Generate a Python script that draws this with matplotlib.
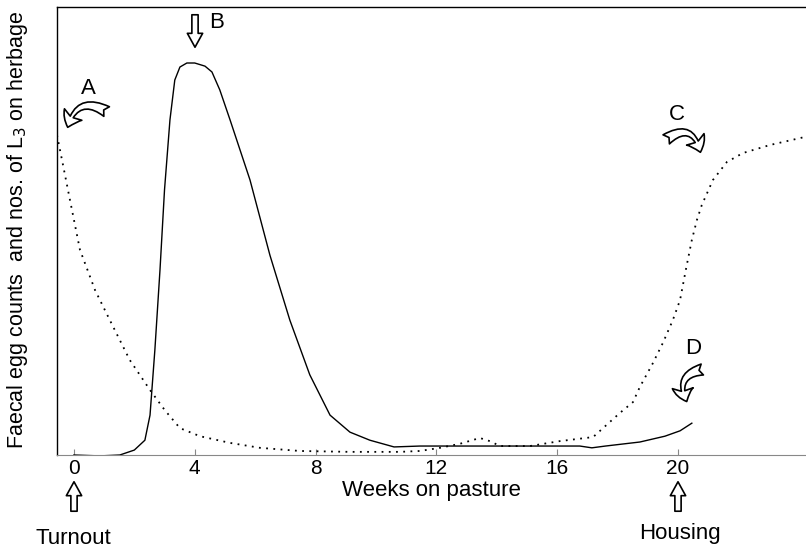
import matplotlib.pyplot as plt
from matplotlib.patches import FancyArrowPatch

plt.rcParams['font.family'] = ['Liberation Sans', 'DejaVu Sans']

# faecal egg counts (solid), relative units 0-100
fec_weeks = [0, 0.86, 1.52, 2.0, 2.35, 2.52, 2.68, 2.85, 3.0, 3.18, 3.34, 3.51,
             3.74, 4.0, 4.34, 4.57, 4.83, 5.17, 5.83, 6.49, 7.15, 7.81, 8.48,
             9.14, 9.8, 10.6, 11.46, 12.45, 14.1, 16.1, 16.75, 17.15, 17.6,
             18.74, 19.57, 20.07, 20.46]
fec_vals = [0, -0.2, 0, 1.1, 3.3, 8.9, 23.4, 41.3, 59.2, 74.8, 83.7, 86.6,
            87.5, 87.5, 86.8, 85.5, 81.5, 74.8, 61.4, 44.6, 30.1, 17.9, 8.9,
            5.1, 3.3, 1.8, 2.0, 2.0, 2.0, 2.0, 2.0, 1.6, 2.0,
            2.9, 4.2, 5.4, 7.1]

# L3 on herbage (dotted)
l3_weeks = [-0.56, -0.36, -0.13, 0.2, 0.7, 1.19, 1.85, 2.52, 3.01, 3.51, 4.17,
            5.17, 6.16, 7.48, 9.14, 10.79, 11.46, 12.12, 12.78, 13.44, 13.77,
            14.11, 15.1, 16.09, 17.19, 17.75, 18.08, 18.51, 18.74, 19.17, 19.5,
            19.83, 20.07, 20.26, 20.46, 20.63, 20.79, 21.16, 21.62, 22.15,
            23.05, 24.21]
l3_vals = [71.4, 64.7, 56.9, 45.8, 36.8, 30.1, 21.2, 14.5, 10.0, 6.0, 4.2,
           2.7, 1.6, 0.9, 0.7, 0.7, 0.9, 1.6, 2.5, 3.8, 3.1,
           2.0, 2.0, 3.1, 4.0, 7.4, 9.4, 11.8, 15.2, 20.5, 25.0,
           30.1, 34.6, 41.3, 48.0, 52.5, 55.8, 61.4, 65.4, 67.4,
           69.2, 71.0]

xticks = [0, 4, 8, 12, 16, 20]

W, H = 806, 547
fig = plt.figure(figsize=(W / 100, H / 100), dpi=100)
ax = fig.add_axes([57 / W, 1 - 455 / H, 1 - 57 / W, (455 - 7) / H])

ax.plot(fec_weeks, fec_vals, color='black', linewidth=1.0)
ax.plot(l3_weeks, l3_vals, color='black', linewidth=1.3, linestyle=(0, (1, 3)))

ax.set_xlim(-0.56, 24.24)
ax.set_ylim(0, 100)
ax.set_xticks(xticks)
ax.set_yticks([])
ax.tick_params(axis='x', direction='in', length=4, color='#888888',
               labelsize=15, pad=3)
ax.spines['right'].set_visible(False)
ax.spines['bottom'].set_color('#888888')
ax.spines['left'].set_linewidth(1.0)
ax.spines['top'].set_linewidth(1.0)

ax.set_xlabel('Weeks on pasture', fontsize=16, labelpad=1)
fig.text(18 / W, 1 - 230 / H, 'Faecal egg counts  and nos. of L$_3$ on herbage',
         rotation=90, fontsize=15.5, ha='center', va='center')


def px(x, y):
    return (x / W, 1 - y / H)


def arrow(p0, p1, rad=0.0, style='simple'):
    if style == 'simple':
        st = 'simple,head_width=11,head_length=10,tail_width=4.5'
    else:
        st = 'fancy,head_width=15,head_length=10,tail_width=8'
    a = FancyArrowPatch(px(*p0), px(*p1), transform=fig.transFigure,
                        arrowstyle=st, mutation_scale=1,
                        connectionstyle=f'arc3,rad={rad}',
                        facecolor='white', edgecolor='black', linewidth=1.2)
    fig.add_artist(a)


# straight arrows
arrow((195, 12), (195, 50))
arrow((74, 514), (74, 479))
arrow((678, 514), (678, 479))

# curved arrows
arrow((109, 113), (67, 130), rad=0.7, style='fancy')
arrow((664, 141), (701, 155), rad=-0.8, style='fancy')
arrow((705, 369), (688, 404), rad=0.7, style='fancy')

for lab, x, y in [('A', 88, 88), ('B', 217, 23), ('C', 677, 115), ('D', 693, 349)]:
    fig.text(*px(x, y), lab, fontsize=16, ha='center', va='center')

fig.text(*px(73, 538), 'Turnout', fontsize=16, ha='center', va='center')
fig.text(*px(680, 533), 'Housing', fontsize=16, ha='center', va='center')

fig.savefig('out.png', dpi=100)
